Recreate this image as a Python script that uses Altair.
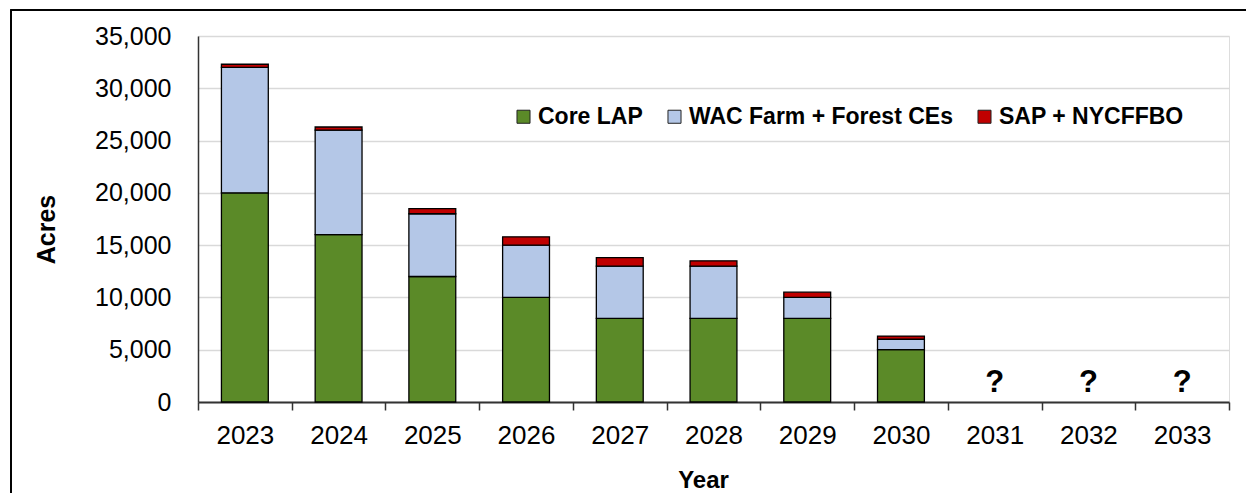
import altair as alt
import pandas as pd

years = ["2023", "2024", "2025", "2026", "2027", "2028", "2029", "2030", "2031", "2032", "2033"]
bar_years = ["2023", "2024", "2025", "2026", "2027", "2028", "2029", "2030"]
series = ["Core LAP", "WAC Farm + Forest CEs", "SAP + NYCFFBO"]
core_lap = [20000, 16000, 12000, 10000, 8000, 8000, 8000, 5000]
wac_ces = [12000, 10000, 6000, 5000, 5000, 5000, 2000, 1000]
sap_nyc = [300, 300, 500, 800, 800, 500, 500, 300]
unknown_years = ["2031", "2032", "2033"]
unknown_label = "?"
colors = ["#5B8A28", "#B4C7E7", "#C00000"]

rows = []
for i, y in enumerate(bar_years):
    for k, (name, vals) in enumerate(zip(series, [core_lap, wac_ces, sap_nyc])):
        rows.append({"Year": y, "Series": name, "Acres": vals[i], "ord": k})
df = pd.DataFrame(rows)
qdf = pd.DataFrame({"Year": unknown_years, "lbl": [unknown_label] * len(unknown_years), "v": [0] * len(unknown_years)})

FONT = "Liberation Sans"

xscale = alt.Scale(domain=years, paddingInner=0, paddingOuter=0)
yscale = alt.Scale(domain=[0, 35000], nice=False)

bars = alt.Chart(df).mark_bar(stroke="black", strokeWidth=1.3, width=alt.RelativeBandSize(0.5)).encode(
    x=alt.X("Year:N", scale=xscale, sort=years,
            axis=alt.Axis(title="Year", labelAngle=0, tickBand="extent", ticks=True, tickSize=8,
                          tickColor="#333333", tickWidth=1.5, domainColor="#333333", domainWidth=2,
                          labelFontSize=26, labelFont=FONT, labelColor="black", labelPadding=12,
                          titleFontSize=24, titleFont=FONT, titleFontWeight="bold", titleColor="black",
                          titleX=505, titleY=85, titleBaseline="alphabetic", titleAlign="center",
                          grid=False)),
    y=alt.Y("Acres:Q", stack="zero", scale=yscale,
            axis=alt.Axis(title="Acres", values=list(range(0, 35001, 5000)), format=",d",
                          ticks=False, labelFontSize=25, labelFont=FONT, labelColor="black", labelPadding=27,
                          domainColor="#333333", domainWidth=1.5,
                          grid=True, gridColor="#D9D9D9", gridWidth=1.5,
                          titleFontSize=25, titleFont=FONT, titleFontWeight="bold", titleColor="black",
                          titleAngle=-90, titleX=-152, titleY=193, titleAlign="center", titleBaseline="middle")),
    color=alt.Color("Series:N", scale=alt.Scale(domain=series, range=colors),
                    legend=alt.Legend(title=None, orient="none", legendX=314, legendY=69,
                                      direction="horizontal", columns=3, columnPadding=20,
                                      symbolType="square", symbolSize=170, symbolStrokeColor="#222222",
                                      symbolStrokeWidth=1, symbolOffset=0, labelOffset=3,
                                      labelFontSize=23, labelFont=FONT, labelFontWeight="bold",
                                      labelColor="black", padding=0, labelLimit=400)),
    order=alt.Order("ord:Q"),
)

qmarks = alt.Chart(qdf).mark_text(font=FONT, fontSize=31, fontWeight="bold", color="black",
                                  baseline="alphabetic", dy=-10).encode(
    x=alt.X("Year:N", scale=xscale, sort=years),
    y=alt.Y("v:Q", scale=yscale),
    text="lbl:N",
)

frame = alt.Chart(qdf).mark_rect(filled=False, stroke="black", strokeWidth=1.5).encode(
    x=alt.value(-187), x2=alt.value(1400), y=alt.value(-26), y2=alt.value(800)
)

chart = alt.layer(frame, bars, qmarks).properties(
    width=1031, height=366,
    autosize=alt.AutoSizeParams(type="none"),
    padding={"left": 190, "top": 28, "right": 17, "bottom": 91},
).configure_view(stroke="#595959", strokeWidth=1.5).configure(background="white")

chart.save("out.html", embed_options={"renderer": "svg", "actions": False})
